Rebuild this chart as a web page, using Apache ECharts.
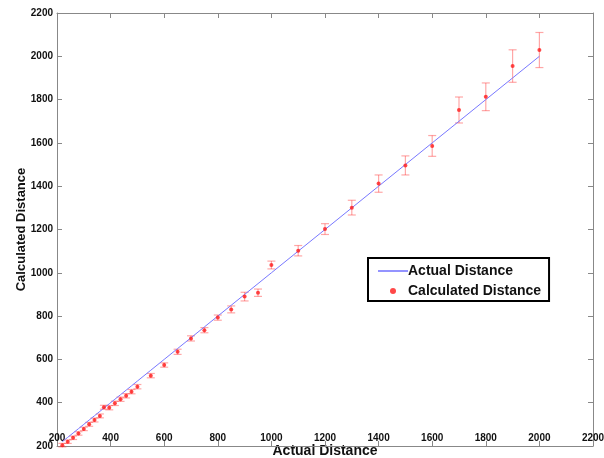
<!DOCTYPE html>
<html>
<head>
<meta charset="utf-8">
<script src="https://cdn.jsdelivr.net/npm/echarts@6/dist/echarts.min.js"></script>
<style>
html,body{margin:0;padding:0;background:#fff;}
#chart{width:604px;height:458px;}
</style>
</head>
<body>
<div id="chart"></div>
<script>
// Data
var actualDistance = [220, 240, 260, 280, 300, 320, 340, 360, 375, 395, 416, 437, 458, 478, 500,
  550, 600, 650, 700, 750, 800, 850, 900, 950, 1000,
  1100, 1200, 1300, 1400, 1500, 1600, 1700, 1800, 1900, 2000];
var calculatedDistance = [204, 220, 238, 258, 279, 300, 320, 339, 379, 377, 397, 416, 432, 451, 474,
  525, 574, 635, 697, 735, 793, 831, 890, 908, 1036,
  1102, 1202, 1301, 1412, 1496, 1586, 1752, 1813, 1955, 2029];
var errorHalf = [8, 8, 8, 8, 8, 9, 9, 9, 9, 10, 10, 10, 10, 10, 10,
  10, 10, 12, 12, 12, 12, 16, 20, 17, 18,
  24, 25, 34, 40, 44, 48, 60, 64, 75, 81];
var xTicks = {min: 200, max: 2200, interval: 200};
var yTicks = {min: 200, max: 2200, interval: 200};

var lineData = actualDistance.map(function (a) { return [a, a]; });
var pointData = actualDistance.map(function (a, i) { return [a, calculatedDistance[i]]; });
var errData = actualDistance.map(function (a, i) {
  return [a, calculatedDistance[i] - errorHalf[i], calculatedDistance[i] + errorHalf[i]];
});

var FONT = '"Liberation Sans", Arial, sans-serif';
var axisGray = '#888888';
function plain(v) { return String(v); }

var chart = echarts.init(document.getElementById('chart'));
chart.setOption({
  animation: false,
  backgroundColor: '#ffffff',
  grid: {left: 57, right: 11, top: 13, bottom: 12, containLabel: false, outerBoundsMode: 'none'},
  legend: {
    left: 368, top: 258,
    orient: 'vertical',
    itemWidth: 30, itemHeight: 6, itemGap: 6,
    padding: [6, 8, 3, 10],
    borderColor: '#000', borderWidth: 2,
    backgroundColor: '#fff',
    textStyle: {fontFamily: FONT, fontWeight: 'bold', fontSize: 14, color: '#111', padding: [0, 0, 0, -5]},
    data: [
      {name: 'Actual Distance', icon: 'path://M0,2.4L30,2.4L30,3.6L0,3.6Z M0,0L0.01,0L0,0.01Z M30,6L29.99,6L30,5.99Z', itemStyle: {color: '#2a2aff'}},
      {name: 'Calculated Distance', icon: 'circle'}
    ]
  },
  xAxis: [{
    type: 'value', min: xTicks.min, max: xTicks.max, interval: xTicks.interval,
    name: 'Actual Distance', nameLocation: 'middle', nameGap: 5, nameMoveOverlap: false,
    nameTextStyle: {fontFamily: FONT, fontWeight: 'bold', fontSize: 14, color: '#111', verticalAlign: 'middle'},
    axisLine: {show: true, onZero: false, lineStyle: {color: axisGray, width: 1}},
    axisTick: {show: true, inside: true, length: 5, lineStyle: {color: axisGray}},
    axisLabel: {inside: true, margin: 3, formatter: plain, fontFamily: FONT, fontWeight: 'bold', fontSize: 10, color: '#111', showMinLabel: true, showMaxLabel: true},
    splitLine: {show: false}
  }, {
    type: 'value', position: 'top', min: xTicks.min, max: xTicks.max, interval: xTicks.interval,
    axisLine: {show: true, onZero: false, lineStyle: {color: axisGray, width: 1}},
    axisTick: {show: true, inside: true, length: 5, lineStyle: {color: axisGray}},
    axisLabel: {show: false}, splitLine: {show: false}
  }],
  yAxis: [{
    type: 'value', min: yTicks.min, max: yTicks.max, interval: yTicks.interval,
    name: 'Calculated Distance', nameLocation: 'middle', nameGap: 29, nameRotate: 90, nameMoveOverlap: false,
    nameTextStyle: {fontFamily: FONT, fontWeight: 'bold', fontSize: 13, color: '#111'},
    axisLine: {show: true, onZero: false, lineStyle: {color: axisGray, width: 1}},
    axisTick: {show: true, inside: true, length: 5, lineStyle: {color: axisGray}},
    axisLabel: {margin: 4, formatter: plain, fontFamily: FONT, fontWeight: 'bold', fontSize: 10, color: '#111'},
    splitLine: {show: false}
  }, {
    type: 'value', position: 'right', min: yTicks.min, max: yTicks.max, interval: yTicks.interval,
    axisLine: {show: true, onZero: false, lineStyle: {color: axisGray, width: 1}},
    axisTick: {show: true, inside: true, length: 5, lineStyle: {color: axisGray}},
    axisLabel: {show: false}, splitLine: {show: false}
  }],
  series: [{
    name: 'Actual Distance', type: 'line', data: lineData,
    symbol: 'none', lineStyle: {color: '#7878ff', width: 1}, itemStyle: {color: '#2a2aff'},
    z: 3
  }, {
    name: 'errorbars', type: 'custom', data: errData,
    renderItem: function (params, api) {
      var x = api.value(0);
      var lo = api.coord([x, api.value(1)]);
      var hi = api.coord([x, api.value(2)]);
      var hw = 4;
      var style = {stroke: 'rgba(255,60,60,0.45)', lineWidth: 1.2, fill: null};
      return {
        type: 'group',
        children: [
          {type: 'line', shape: {x1: lo[0], y1: lo[1], x2: hi[0], y2: hi[1]}, style: style},
          {type: 'line', shape: {x1: lo[0] - hw, y1: lo[1], x2: lo[0] + hw, y2: lo[1]}, style: style},
          {type: 'line', shape: {x1: hi[0] - hw, y1: hi[1], x2: hi[0] + hw, y2: hi[1]}, style: style}
        ]
      };
    },
    encode: {x: 0, y: [1, 2]},
    z: 2, silent: true
  }, {
    name: 'Calculated Distance', type: 'scatter', data: pointData,
    symbol: 'circle', symbolSize: 4,
    itemStyle: {color: '#ff1a1a'},
    z: 4
  }]
});
</script>
</body>
</html>
